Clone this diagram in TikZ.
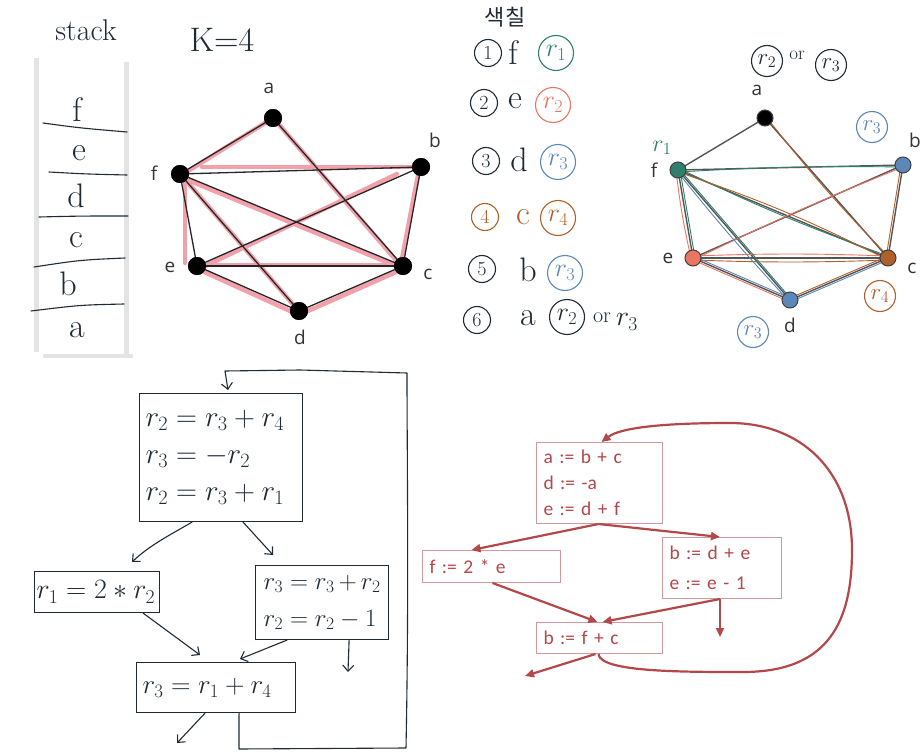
\RequirePackage{fix-cm}
\documentclass[tikz,border=0pt]{standalone}
\usepackage{fontspec}
\newfontfamily\osans{Open Sans}
\newfontfamily\carl{Carlito}
\newfontfamily\krfont{Noto Sans CJK KR}
\usetikzlibrary{arrows.meta,calc}
\definecolor{ink}{HTML}{1E2B36}
\definecolor{sgray}{HTML}{E4E4E4}
\definecolor{pinkhl}{HTML}{F2A1AB}
\definecolor{gedgec}{HTML}{555555}
\definecolor{cG}{HTML}{2E7F6C}
\definecolor{cR}{HTML}{EA7561}
\definecolor{cB}{HTML}{5C87B9}
\definecolor{cO}{HTML}{B0602A}
\definecolor{cfgred}{HTML}{B3474A}
\definecolor{cfgbox}{HTML}{D09A9A}
\definecolor{lbl}{HTML}{333333}
\begin{document}
\begin{tikzpicture}[x=1pt,y=-1pt,
  hand/.style={color=ink,line width=1.1pt,line cap=round,line join=round},
  handarr/.style={hand,-{Straight Barb[length=6pt,width=11pt]}},
  htext/.style={text=ink,font=\fontsize{34}{34}\selectfont,inner sep=0},
  gv/.style={circle,fill=black,inner sep=0,minimum size=18pt},
  glabel/.style={text=lbl,font=\osans\fontsize{19}{19}\selectfont,inner sep=0},
  gedge/.style={color=black!85,line width=1.3pt},
  pinkedge/.style={color=pinkhl,line width=4.5pt,line cap=round},
  hedge/.style={color=gedgec,line width=1.4pt},
  strand/.style={line width=0.9pt},
  hv/.style={circle,inner sep=0,minimum size=16pt,draw=black!75,line width=1pt},
  circ/.style={circle,draw,line width=1.1pt,inner sep=0,minimum size=35pt,font=\fontsize{26}{26}\selectfont},
  scirc/.style={circ,minimum size=31pt,font=\fontsize{23}{23}\selectfont},
  cnum/.style={circle,draw=ink,text=ink,line width=1.1pt,inner sep=0,minimum size=27pt,font=\fontsize{20}{20}\selectfont},
  hbox/.style={draw=ink,line width=1.1pt,anchor=north west,align=left,inner xsep=6pt,inner ysep=0,text=ink,font=\fontsize{29}{37}\selectfont},
  rbox/.style={draw=cfgbox,line width=1pt,anchor=north west,align=left,inner xsep=7pt,inner ysep=0,text=cfgred,font=\carl\fontsize{19.5}{26}\selectfont},
  rarr/.style={color=cfgred,line width=2.2pt,-{Triangle[length=9pt,width=8pt]}}]
\useasboundingbox (0,0) rectangle (922,752);
\fill[white] (0,0) rectangle (922,752);

% ---------- stack ----------
\node[htext,font=\fontsize{30}{30}\selectfont] (stk) at (86,30) {stack};
\node[htext,font=\fontsize{34}{34}\selectfont] (k4) at (222,40) {K=4};
\draw[line width=5pt,color=sgray] (36,58) -- (36,352);
\draw[line width=5pt,color=sgray] (126,62) -- (126,355);
\draw[line width=4pt,color=sgray] (43,356) -- (133,356);
\draw[hand] (43,123) .. controls (80,128) .. (127,132);
\draw[hand] (49,172) .. controls (85,174) .. (127,175);
\draw[hand] (39,217) .. controls (80,216) .. (128,216);
\draw[hand] (34,267) .. controls (80,260) .. (125,258);
\draw[hand] (31,311) .. controls (80,305) .. (124,304);
\node[htext] (sf) at (77,110) {f};
\node[htext] (se) at (79,153) {e};
\node[htext] (sd) at (76,196) {d};
\node[htext] (sc) at (76,240) {c};
\node[htext] (sb) at (68,284) {b};
\node[htext] (sa) at (77,330) {a};

% ---------- graph 1 ----------
\coordinate (pa) at (273,118);
\coordinate (pb) at (421,167);
\coordinate (pf) at (180,174);
\coordinate (pe) at (197,266);
\coordinate (pc) at (403,266);
\coordinate (pd) at (299,311);
\draw[pinkedge] (pa) -- ($(pf)+(8,-3)$);
\draw[pinkedge] ($(pf)+(22,-7)$) -- ($(pb)+(-8,0)$);
\draw[pinkedge] ($(pf)+(5,5)$) -- ($(pe)+(-12,-3)$);
\draw[pinkedge] ($(pf)+(3,3)$) -- ($(pd)+(-2,-2)$);
\draw[pinkedge] ($(pf)+(3,4)$) -- ($(pc)+(-2,2)$);
\draw[pinkedge] ($(pa)+(2,2)$) -- ($(pc)+(-2,0)$);
\draw[pinkedge] ($(pb)+(-24,7)$) -- ($(pe)+(4,2)$);
\draw[pinkedge] ($(pb)+(-2,3)$) -- ($(pc)+(-2,-2)$);
\draw[pinkedge] ($(pe)+(4,-1)$) -- ($(pc)+(-4,-1)$);
\draw[pinkedge] ($(pe)+(3,4)$) -- ($(pd)+(0,4)$);
\draw[pinkedge] ($(pd)+(2,3)$) -- ($(pc)+(0,3)$);
\node[gv] (ga) at (pa) {};
\node[gv] (gb) at (pb) {};
\node[gv] (gf) at (pf) {};
\node[gv] (ge) at (pe) {};
\node[gv] (gc) at (pc) {};
\node[gv] (gd) at (pd) {};
\foreach \u/\v in {a/f,a/c,f/b,f/c,f/e,f/d,b/e,b/c,e/c,e/d,d/c}
  \draw[gedge] (g\u.center) -- (g\v.center);
\foreach \n in {a,b,c,d,e,f} \node[gv] at (g\n) {};
\node[glabel] (la) at (269,88) {a};
\node[glabel] (lb) at (435,140) {b};
\node[glabel] (lf) at (154,173) {f};
\node[glabel] (le) at (170,267) {e};
\node[glabel] (lc) at (428,274) {c};
\node[glabel] (ld) at (300,337) {d};

% ---------- colouring list ----------
\node[text=ink,font=\krfont\fontsize{22}{22}\selectfont,inner sep=0] (kr) at (505,17) {색칠};
\node[cnum] (n1) at (488,53) {1};
\node[htext] (t1) at (513,53) {f};
\node[circ,color=cG] (c1) at (556,53) {$r_1$};
\node[cnum] (n2) at (484,103) {2};
\node[htext] (t2) at (515,101) {e};
\node[circ,color=cR] (c2) at (553,105) {$r_2$};
\node[cnum] (n3) at (486,161) {3};
\node[htext] (t3) at (519,160) {d};
\node[circ,color=cB] (c3) at (558,162) {$r_3$};
\node[cnum,draw=cO,text=cO] (n4) at (485,217) {4};
\node[htext,text=cO] (t4) at (523,217) {c};
\node[circ,color=cO] (c4) at (558,218) {$r_4$};
\node[cnum] (n5) at (482,269) {5};
\node[htext] (t5) at (528,270) {b};
\node[circ,color=cB] (c5) at (565,273) {$r_3$};
\node[cnum] (n6) at (477,320) {6};
\node[htext] (t6) at (528,318) {a};
\node[circ,color=ink] (c6) at (567,317) {$r_2$};
\node[text=ink,font=\fontsize{22}{22}\selectfont,inner sep=0] (or1) at (602,318) {or};
\node[text=ink,font=\fontsize{28}{28}\selectfont,inner sep=0] (r3a) at (627,322) {$r_3$};

% ---------- coloured graph ----------
\coordinate (qa) at (765,118);
\coordinate (qb) at (903,165);
\coordinate (qf) at (678,170);
\coordinate (qe) at (693,258);
\coordinate (qc) at (888,258);
\coordinate (qd) at (790,300);
\foreach \u/\v in {a/f,a/c,f/b,f/c,f/e,f/d,b/e,b/c,e/c,e/d,d/c}
  \draw[hedge] (q\u) -- (q\v);
\draw[strand,cG] ($(qf)+(0,2)$) to[bend left=2] ($(qb)+(0,2)$);
\draw[strand,cG] ($(qf)+(0,-2)$) to[bend right=3] ($(qc)+(0,-2)$);
\draw[strand,cO] ($(qf)+(0,2)$) to[bend left=4] ($(qc)+(0,2)$);
\draw[strand,cO] ($(qa)+(2,0)$) to[bend right=3] ($(qc)+(2,0)$);
\draw[strand,cR] ($(qe)+(0,2)$) to[bend left=2] ($(qb)+(0,2)$);
\draw[strand,cO] ($(qb)+(-2,0)$) -- ($(qc)+(-2,0)$);
\draw[strand,cR] ($(qe)+(0,-2)$) to[bend left=2] ($(qc)+(0,-2)$);
\draw[strand,cO] ($(qe)+(0,2)$) to[bend right=2] ($(qc)+(0,2)$);
\draw[strand,cR] ($(qe)+(0,2)$) -- ($(qd)+(0,2)$);
\draw[strand,cB] ($(qe)+(0,-2)$) -- ($(qd)+(0,-2)$);
\draw[strand,cR] ($(qf)+(-2,0)$) to[bend right=3] ($(qe)+(-2,0)$);
\draw[strand,cG] ($(qf)+(2,0)$) -- ($(qe)+(2,0)$);
\draw[strand,cB] ($(qf)+(-2,0)$) to[bend right=2] ($(qd)+(-2,0)$);
\draw[strand,cG] ($(qf)+(2,0)$) -- ($(qd)+(2,0)$);
\draw[strand,cB] ($(qd)+(0,2)$) -- ($(qc)+(0,2)$);
\draw[strand,cO] ($(qd)+(0,-2)$) -- ($(qc)+(0,-2)$);
\node[hv,fill=black] (ha) at (qa) {};
\node[hv,fill=cB] (hb) at (qb) {};
\node[hv,fill=cG] (hf) at (qf) {};
\node[hv,fill=cR] (he) at (qe) {};
\node[hv,fill=cO] (hc) at (qc) {};
\node[hv,fill=cB] (hd) at (qd) {};
\node[glabel] (ma) at (757,90) {a};
\node[glabel] (mb) at (915,140) {b};
\node[glabel] (mf) at (654,170) {f};
\node[glabel] (me) at (668,258) {e};
\node[glabel] (mc) at (912,268) {c};
\node[glabel] (md) at (790,325) {d};
\node[scirc,color=ink] (x1) at (767,61) {$r_2$};
\node[text=ink,font=\fontsize{19}{19}\selectfont,inner sep=0] (or2) at (797,55) {or};
\node[scirc,color=ink] (x2) at (831,65) {$r_3$};
\node[scirc,color=cB] (x3) at (872,127) {$r_3$};
\node[text=cG,font=\fontsize{24}{24}\selectfont,inner sep=0] (x4) at (662,148) {$r_1$};
\node[scirc,color=cO] (x5) at (880,296) {$r_4$};
\node[scirc,color=cB] (x6) at (753,332) {$r_3$};

% ---------- handwritten CFG ----------
\node[hbox,text width=151pt,minimum height=128pt] (b1) at (139,393)
  {$r_2 = r_3 + r_4$\\$r_3 = -r_2$\\$r_2 = r_3 + r_1$};
\node[hbox,text width=121pt,minimum height=41pt,inner xsep=2pt,font=\fontsize{28}{28}\selectfont] (b2) at (34,571)
  {$r_1 = 2 * r_2$};
\node[hbox,text width=117pt,minimum height=74pt,inner xsep=8pt,font=\fontsize{25}{37}\selectfont] (b3) at (255,565)
  {$r_3 = r_3 + r_2$\\$r_2 = r_2 - 1$};
\node[hbox,text width=147pt,minimum height=50pt,inner xsep=6pt,font=\fontsize{27}{27}\selectfont] (b4) at (136,662)
  {$r_3 = r_1 + r_4$};
\coordinate (e1) at (132,562);
\coordinate (e2) at (273,555);
\coordinate (e3) at (200,655);
\coordinate (e4) at (240,659);
\coordinate (e5) at (348,672);
\coordinate (e6) at (177,743);
\coordinate (e7) at (228,390);
\draw[handarr] ([xshift=-29pt]b1.south) .. controls (170,535) and (150,545) .. (e1);
\draw[handarr] ([xshift=22pt]b1.south) -- (e2);
\draw[handarr] ([xshift=-17pt]b2.south east) -- (e3);
\draw[handarr] ([xshift=32pt]b3.south west) -- (e4);
\draw[handarr] ([xshift=-40pt]b3.south east) -- (e5);
\draw[handarr] ([xshift=-11pt]b4.south) -- (e6);
\draw[handarr] ([xshift=23pt]b4.south) -- (239,749) -- (406,748)
  .. controls (409,600) and (407,450) .. (407,373) -- (300,370) -- (225,371) -- (e7);

% ---------- typed CFG ----------
\node[rbox,text width=112pt,minimum height=81pt] (ra) at (536,442)
  {a := b + c\\d := -a\\e := d + f};
\node[rbox,text width=124pt,minimum height=32pt] (rf) at (422,550)
  {f := 2 * e};
\node[rbox,text width=105pt,minimum height=61pt,font=\carl\fontsize{19.5}{30}\selectfont] (rb) at (662,537)
  {b := d + e\\e := e - 1};
\node[rbox,text width=112pt,minimum height=31pt] (rc) at (536,622)
  {b := f + c};
\coordinate (f1) at (720,637);
\coordinate (f2) at (525,676);
\draw[rarr] ([xshift=-1pt]ra.south) -- ([xshift=-20pt]rf.north);
\draw[rarr] ([xshift=-1pt]ra.south) -- ([xshift=-2pt]rb.north);
\draw[rarr] ([xshift=1pt]rf.south) -- ([xshift=-2pt]rc.north);
\draw[rarr] ([xshift=-2pt]rb.south) -- ([xshift=3pt]rc.north);
\draw[rarr] ([xshift=-2pt]rb.south) -- (f1);
\draw[rarr] ([xshift=-4pt]rc.south) -- (f2);
\draw[rarr] ([xshift=-1pt]rc.south) .. controls (600,672) and (680,672) .. (743,672)
  .. controls (830,672) and (852,620) .. (852,550)
  .. controls (852,470) and (800,423) .. (730,423)
  .. controls (660,423) and (620,428) .. ([xshift=2pt]ra.north);
\end{tikzpicture}
\end{document}
